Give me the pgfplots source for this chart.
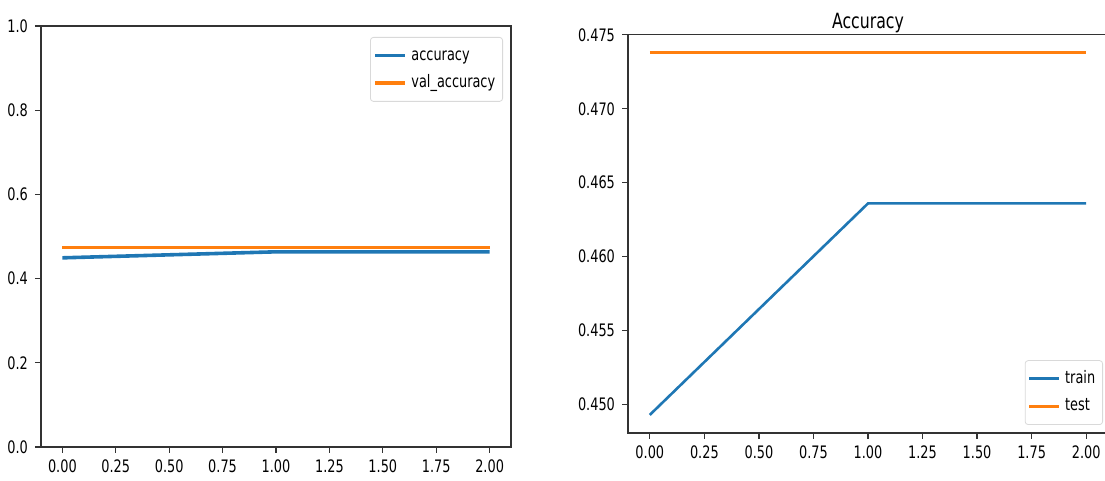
\documentclass[border=0pt]{standalone}
\usepackage{pgfplots}
\pgfplotsset{compat=1.18}
\usepackage{fontspec}
\setmainfont{DejaVu Sans}[FakeStretch=0.75]
\definecolor{tblue}{HTML}{1F77B4}
\definecolor{torange}{HTML}{FF7F0E}
\definecolor{axgray}{HTML}{333333}
\begin{document}
\begin{tikzpicture}
\path[use as bounding box] (0pt,0pt) rectangle (552.5pt,240.5pt);
\pgfplotsset{
  every axis/.append style={
    scale only axis,
    font=\fontsize{8.6}{10}\selectfont,
    axis line style={axgray, line width=0.7pt},
    every tick/.style={axgray, line width=0.6pt},
    tick align=outside,
    major tick length=3pt,
    xtick pos=bottom, ytick pos=left,
    xmin=-0.1, xmax=2.1,
    xtick={0,0.25,0.5,0.75,1,1.25,1.5,1.75,2},
    xticklabels={0.00,0.25,0.50,0.75,1.00,1.25,1.50,1.75,2.00},
    legend cell align=left,
    legend style={draw=black!15, rounded corners=1.5pt, fill=white,
      font=\fontsize{8.6}{10}\selectfont,
      inner xsep=1.5pt, inner ysep=2.2pt,
      nodes={inner sep=2.2pt, text height=7pt, text depth=2.4pt}},
    legend image code/.code={\draw[#1] (0pt,0pt) -- (15pt,0pt);},
  }
}
% left panel
\begin{axis}[
  at={(20.5pt,17pt)}, anchor=south west,
  width=235pt, height=210.5pt,
  ymin=0, ymax=1,
  ytick={0,0.2,0.4,0.6,0.8,1},
  yticklabels={0.0,0.2,0.4,0.6,0.8,1.0},
  legend style={at={(1,1)}, anchor=north east, xshift=-4pt, yshift=-5.5pt},
]
\addplot[tblue, line width=1.8pt] coordinates {(0,0.4493) (1,0.4636) (2,0.4636)};
\addlegendentry{accuracy}
\addplot[torange, line width=1.8pt] coordinates {(0,0.4738) (1,0.4738) (2,0.4738)};
\addlegendentry{val\_accuracy}
\end{axis}
% right panel
\begin{axis}[
  at={(314pt,24pt)}, anchor=south west,
  width=240pt, height=199.25pt,
  ymin=0.448075, ymax=0.475025,
  ytick={0.450,0.455,0.460,0.465,0.470,0.475},
  yticklabels={0.450,0.455,0.460,0.465,0.470,0.475},
  title={Accuracy},
  title style={at={(0.5,1)}, anchor=base, yshift=-3pt, font=\fontsize{10.5}{12}\selectfont},
  legend style={at={(1,0)}, anchor=south east, xshift=-2.5pt, yshift=4pt},
]
\addplot[tblue, line width=1.3pt] coordinates {(0,0.4493) (1,0.4636) (2,0.4636)};
\addlegendentry{train}
\addplot[torange, line width=1.3pt] coordinates {(0,0.4738) (1,0.4738) (2,0.4738)};
\addlegendentry{test}
\end{axis}
\end{tikzpicture}
\end{document}
